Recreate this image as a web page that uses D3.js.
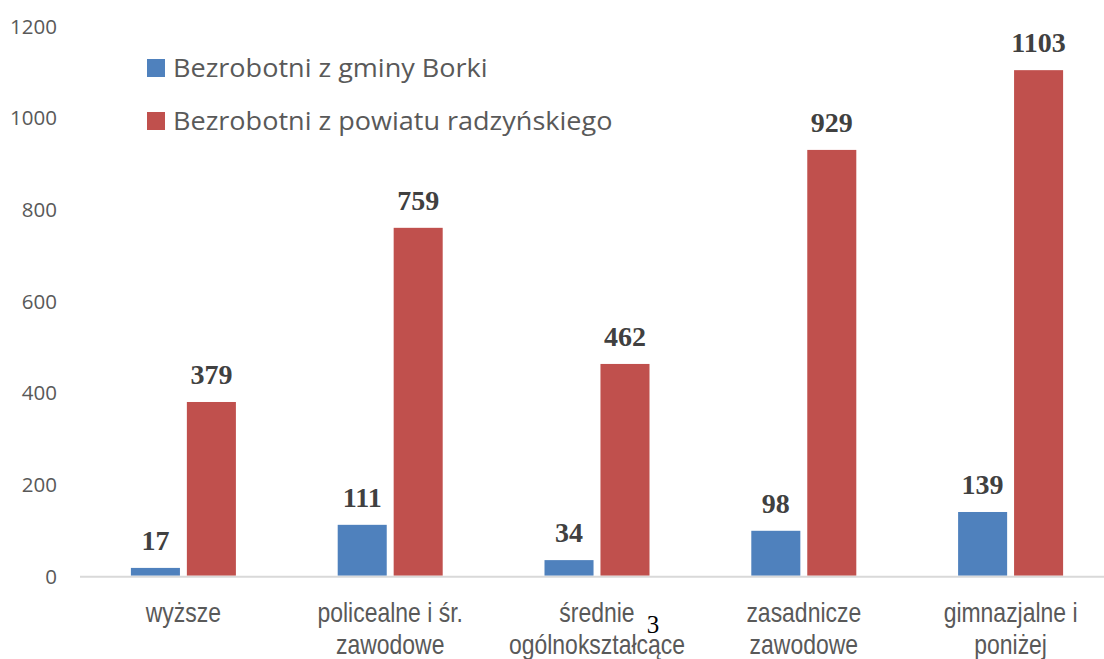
<!DOCTYPE html>
<html>
<head>
<meta charset="utf-8">
<script src="https://cdn.jsdelivr.net/npm/d3@7"></script>
<style>
  html, body { margin: 0; padding: 0; background: #fff; }
  svg { display: block; }
</style>
</head>
<body>
<svg id="chart" width="1104" height="659"></svg>
<script>
const categories = [
  ["wyższe"],
  ["policealne i śr.", "zawodowe"],
  ["średnie", "ogólnokształcące"],
  ["zasadnicze", "zawodowe"],
  ["gimnazjalne i", "poniżej"]
];
const seriesNames = ["Bezrobotni z gminy Borki", "Bezrobotni z powiatu radzyńskiego"];
const gminaValues = [17, 111, 34, 98, 139];
const powiatValues = [379, 759, 462, 929, 1103];
const yTicks = [0, 200, 400, 600, 800, 1000, 1200];
const colors = ["#4F81BD", "#C0504D"];
const pageNumber = "3";

const svg = d3.select("#chart");
const W = 1104, H = 659;

const x0 = d3.scaleBand()
  .domain(d3.range(categories.length))
  .range([80, 1114])
  .paddingInner(0).paddingOuter(0);
const x1 = d3.scaleBand()
  .domain([0, 1])
  .range([x0.bandwidth() / 2 - 52.5, x0.bandwidth() / 2 + 52.5])
  .paddingInner(13 / 105)
  .paddingOuter(0);

const y = d3.scaleLinear().domain([0, 1200]).range([575.7, 25.7]);

// y tick labels
const yAxis = d3.axisLeft(y).tickValues(yTicks).tickSize(0).tickPadding(0).tickFormat(d3.format("d"));
const gy = svg.append("g").attr("transform", "translate(57,0)").call(yAxis);
gy.select(".domain").remove();
gy.selectAll("text")
  .attr("font-family", "'Open Sans', sans-serif")
  .attr("font-size", 20.5)
  .attr("fill", "#595959")
  .attr("dy", "0.36em");

// bars
const data = categories.map((c, i) => ({ i, vals: [gminaValues[i], powiatValues[i]] }));
const groups = svg.append("g").selectAll("g").data(data).join("g")
  .attr("transform", d => `translate(${x0(d.i)},0)`);

groups.selectAll("rect").data(d => d.vals.map((v, s) => ({ v, s }))).join("rect")
  .attr("x", d => x1(d.s))
  .attr("width", x1.bandwidth())
  .attr("y", d => y(d.v))
  .attr("height", d => y(0) - y(d.v))
  .attr("fill", d => colors[d.s]);

// data labels
groups.selectAll("text.val").data(d => d.vals.map((v, s) => ({ v, s }))).join("text")
  .attr("class", "val")
  .attr("x", d => x1(d.s) + x1.bandwidth() / 2)
  .attr("y", d => y(d.v) - 18)
  .attr("text-anchor", "middle")
  .attr("font-family", "'Liberation Serif', 'Times New Roman', serif")
  .attr("font-weight", "bold")
  .attr("font-size", 28)
  .attr("fill", "#404040")
  .text(d => d.v);

// x axis line
svg.append("line")
  .attr("x1", 80).attr("x2", W)
  .attr("y1", y(0) + 1).attr("y2", y(0) + 1)
  .attr("stroke", "#D9D9D9").attr("stroke-width", 2);

// category labels
const xAxis = d3.axisBottom(x0).tickSize(0).tickFormat(() => "");
const gx = svg.append("g").attr("transform", `translate(0,${y(0)})`).call(xAxis);
gx.select(".domain").remove();
gx.selectAll(".tick").each(function(d) {
  const t = d3.select(this).append("text")
    .attr("text-anchor", "middle")
    .attr("transform", "scale(0.82,1)")
    .attr("font-family", "'Liberation Sans', Arial, sans-serif")
    .attr("font-size", 28)
    .attr("fill", "#595959");
  categories[d].forEach((line, k) => {
    t.append("tspan").attr("x", 0).attr("y", 46 + k * 32).text(line);
  });
});

// legend
const legend = svg.append("g");
seriesNames.forEach((name, s) => {
  const ly = 59 + s * 53;
  legend.append("rect").attr("x", 147).attr("y", ly).attr("width", 18).attr("height", 18).attr("fill", colors[s]);
  legend.append("text")
    .attr("transform", `translate(173,${ly + 18}) scale(1.04,1)`)
    .attr("font-family", "'Open Sans', sans-serif")
    .attr("font-size", 26)
    .attr("fill", "#595959")
    .text(name);
});

// page number artifact
svg.append("text")
  .attr("x", 653).attr("y", 633)
  .attr("text-anchor", "middle")
  .attr("font-family", "'Liberation Serif', 'Times New Roman', serif")
  .attr("font-size", 25)
  .attr("fill", "#000")
  .text(pageNumber);
</script>
</body>
</html>
